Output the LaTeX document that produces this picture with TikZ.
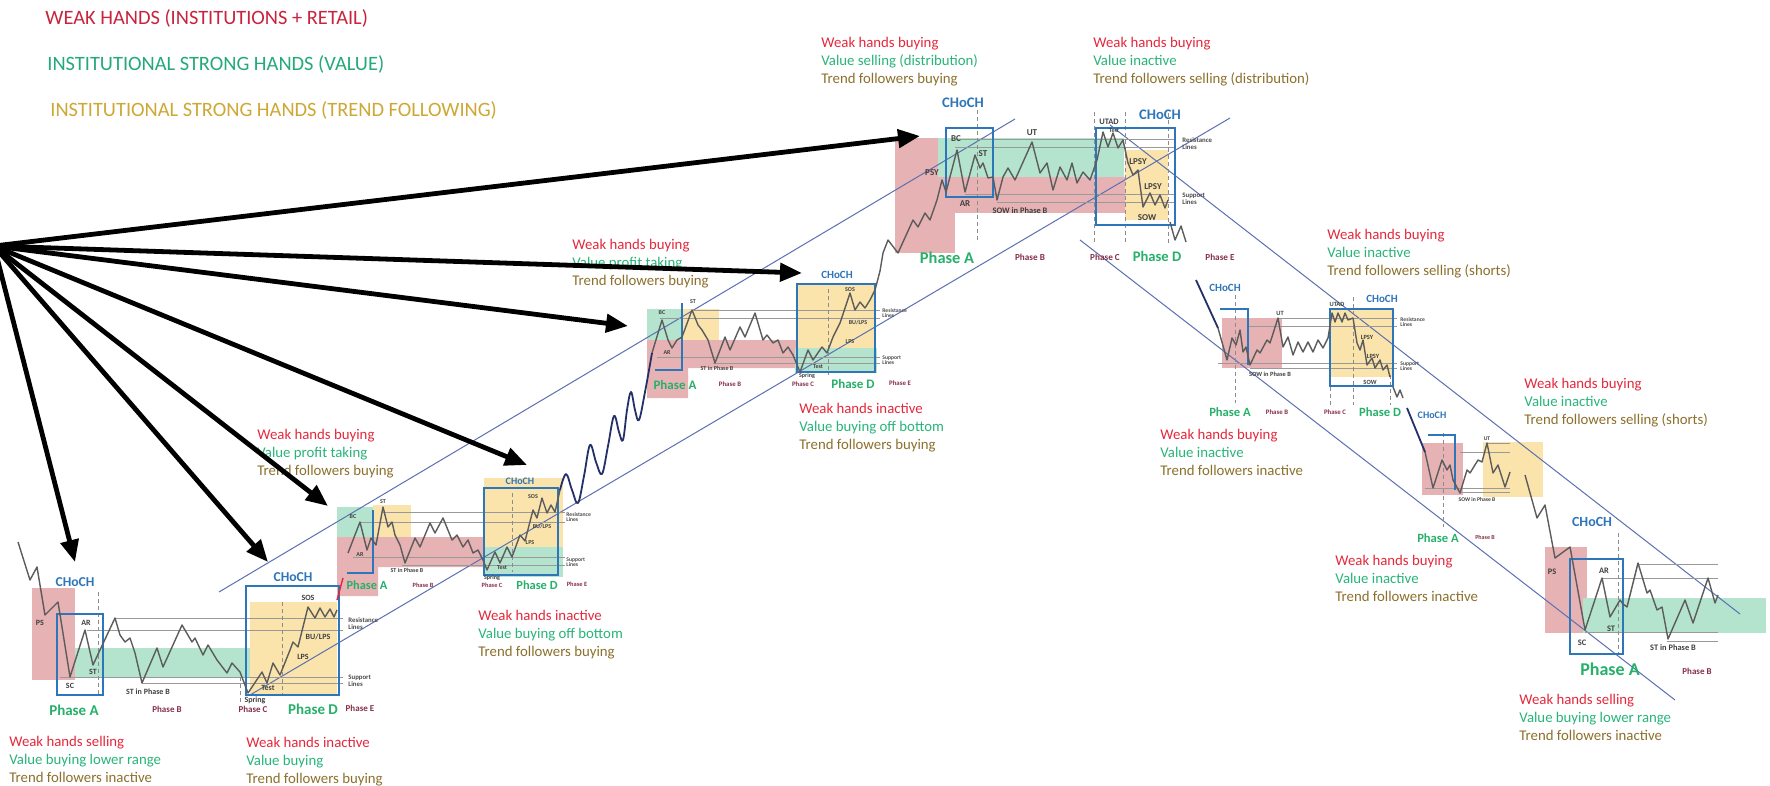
\documentclass[tikz,border=0pt]{standalone}
\usepackage{fontspec}
\setmainfont{Carlito}
\usetikzlibrary{arrows.meta}
\definecolor{wk}{RGB}{228,40,60}
\definecolor{vl}{RGB}{40,180,122}
\definecolor{tf}{RGB}{140,112,44}
\definecolor{lgw}{RGB}{200,36,62}
\definecolor{lgv}{RGB}{36,170,120}
\definecolor{lgt}{RGB}{206,168,52}
\definecolor{bx}{RGB}{46,118,186}
\definecolor{rz}{RGB}{230,178,180}
\definecolor{gz}{RGB}{180,228,206}
\definecolor{yz}{RGB}{250,228,172}
\definecolor{ch}{RGB}{92,112,178}
\definecolor{pl}{RGB}{92,92,92}
\definecolor{nv}{RGB}{36,48,104}
\definecolor{phc}{RGB}{134,48,72}
\definecolor{pg}{RGB}{38,176,106}
\begin{document}
\begin{tikzpicture}[x=0.5pt,y=-0.5pt,
  px/.style={color=pl,line width=0.7pt,line join=round},
  drift/.style={color=nv,line width=0.9pt,line join=round},
  lvl/.style={color=black!40,line width=0.5pt},
  cut/.style={color=black!45,line width=0.4pt,dash pattern=on 2pt off 1.5pt},
  hold/.style={color=bx,line width=1pt},
  chan/.style={color=ch,line width=0.5pt},
  hand/.style={-{Triangle[length=11pt,width=9pt]},line width=2.4pt},
  blk/.style={anchor=north west,align=left,inner sep=0,font=\fontsize{7.4}{9}\selectfont},
  leg/.style={anchor=west,inner sep=0,font=\fontsize{10.2}{12}\selectfont},
  tg/.style={inner sep=0,font=\fontsize{#1}{#1}\selectfont\bfseries,text=black!75},
  tg/.default=4,
  ph/.style={inner sep=0,font=\fontsize{#1}{#1}\selectfont\bfseries,text=phc},
  ph/.default=4.5,
  pa/.style={inner sep=0,font=\fontsize{#1}{#1}\selectfont\bfseries,text=pg},
  choch/.style={inner sep=0,font=\fontsize{#1}{#1}\selectfont\bfseries,text=bx},
  rl/.style={anchor=west,align=left,inner sep=0,font=\fontsize{#1}{#1}\selectfont\bfseries,text=black!70},
  rl/.default=3.4]
\fill[white] (0,0) rectangle (1770,786);
\useasboundingbox (0,0) rectangle (1770,786);

\node[leg,text=lgw] (lgWeak) at (45,18) {WEAK HANDS (INSTITUTIONS + RETAIL)};
\node[leg,text=lgv] (lgValue) at (47,64) {INSTITUTIONAL STRONG HANDS (VALUE)};
\node[leg,text=lgt] (lgTrend) at (50,110) {INSTITUTIONAL STRONG HANDS (TREND FOLLOWING)};

\fill[rz] (32,588) rectangle (75,680);
\fill[gz] (75,648) rectangle (252,678);
\fill[yz] (250,602) rectangle (337,695);
\fill[gz] (337,507) rectangle (373,537);
\fill[yz] (373,505) rectangle (411,537);
\fill[rz] (337,537) -- (483,537) -- (483,567) -- (378,567) -- (378,596) -- (337,596) -- cycle;
\fill[yz] (484,478) rectangle (563,573);
\fill[gz] (484,547) rectangle (563,577);
\fill[gz] (647,309) rectangle (682,340);
\fill[yz] (682,309) rectangle (719,340);
\fill[rz] (647,340) -- (797,340) -- (797,368) -- (688,368) -- (688,398) -- (647,398) -- cycle;
\fill[yz] (797,283) rectangle (875,352);
\fill[gz] (795,348) rectangle (877,373);
\fill[rz] (895,138) rectangle (955,253);
\fill[rz] (955,177) rectangle (1126,213);
\fill[gz] (938,138) rectangle (1124,177);
\fill[yz] (1125,150) rectangle (1168,220);
\fill[rz] (1222,318) rectangle (1282,368);
\fill[yz] (1330,310) rectangle (1393,377);
\fill[rz] (1422,443) rectangle (1463,495);
\fill[yz] (1483,442) rectangle (1543,497);
\fill[rz] (1545,547) rectangle (1587,633);
\fill[gz] (1583,598) rectangle (1766,633);

\draw[chan] (219,592) -- (1015,119);
\draw[chan] (250,695) -- (1230,118);
\draw[chan] (1110,125) -- (1740,614);
\draw[chan] (1080,240) -- (1675,700);

\draw[lvl] (115,618) -- (343,618);
\draw[lvl] (87,630) -- (343,630);
\draw[lvl] (60,677) -- (343,677);
\draw[lvl] (142,683) -- (343,683);
\draw[lvl] (383,512) -- (565,512);
\draw[lvl] (360,522) -- (565,522);
\draw[lvl] (353,557) -- (565,557);
\draw[lvl] (402,565) -- (565,565);
\draw[lvl] (692,310) -- (880,310);
\draw[lvl] (660,318) -- (880,318);
\draw[lvl] (657,357) -- (880,357);
\draw[lvl] (713,363) -- (880,363);
\draw[lvl] (957,140) -- (1175,140);
\draw[lvl] (955,148) -- (1175,148);
\draw[lvl] (965,195) -- (1175,195);
\draw[lvl] (997,203) -- (1175,203);
\draw[lvl] (1278,318) -- (1397,318);
\draw[lvl] (1248,326) -- (1397,326);
\draw[lvl] (1218,363) -- (1397,363);
\draw[lvl] (1250,368) -- (1397,368);
\draw[lvl] (1487,443) -- (1510,443);
\draw[lvl] (1460,452) -- (1510,452);
\draw[lvl] (1425,488) -- (1510,488);
\draw[lvl] (1460,492) -- (1510,492);
\draw[lvl] (1637,564) -- (1718,564);
\draw[lvl] (1602,578) -- (1718,578);
\draw[lvl] (1585,632) -- (1718,632);
\draw[lvl] (1667,641) -- (1718,641);

\draw[cut] (98,592) -- (98,695);
\draw[cut] (240,677) -- (240,702);
\draw[cut] (282,602) -- (282,695);
\draw[cut] (512,493) -- (512,572);
\draw[cut] (828,289) -- (828,375);
\draw[cut] (977,110) -- (977,243);
\draw[cut] (1094,112) -- (1094,243);
\draw[cut] (1125,112) -- (1125,243);
\draw[cut] (1168,113) -- (1168,243);
\draw[cut] (1235,295) -- (1235,403);
\draw[cut] (1330,380) -- (1330,405);
\draw[cut] (1353,297) -- (1353,405);
\draw[cut] (1390,375) -- (1390,405);
\draw[cut] (1443,433) -- (1443,527);
\draw[cut] (1618,533) -- (1618,654);

\draw[hold] (57,614) rectangle (103,695);
\draw[hold] (246,586) rectangle (339,695);
\draw[hold] (347,573) -- (373,573) -- (373,510);
\draw[hold] (484,488) rectangle (558,575);
\draw[hold] (655,370) -- (682,370) -- (682,303);
\draw[hold] (797,284) rectangle (875,372);
\draw[hold] (946,128) rectangle (993,197);
\draw[hold] (1096,128) rectangle (1175,225);
\draw[hold] (1220,309) -- (1248,309) -- (1248,365);
\draw[hold] (1330,309) rectangle (1393,386);
\draw[hold] (1428,435) -- (1455,435) -- (1455,490);
\draw[hold] (1570,559) rectangle (1623,654);

\draw[px] (18,542) -- (30,580) -- (37,567) -- (45,615) -- (58,602) -- (70,677) -- (85,630) -- (93,665) -- (100,650) -- (115,618) -- (120,635) -- (125,642) -- (130,638) -- (135,653) -- (142,683) -- (157,648) -- (163,667) -- (182,625) -- (192,642) -- (195,638) -- (203,655) -- (208,645) -- (217,660) -- (227,673) -- (232,663) -- (240,672) -- (248,693) -- (262,672) -- (267,683) -- (273,663) -- (280,675) -- (290,650) -- (293,642) -- (298,647) -- (308,607) -- (315,618) -- (320,608) -- (325,617) -- (330,609) -- (334,617) -- (337,610);
\draw[color=wk,line width=0.7pt] (337,600) -- (343,578);
\draw[px] (348,553) -- (360,522) -- (367,550) -- (371,538) -- (376,545) -- (383,507) -- (388,527) -- (392,522) -- (395,535) -- (400,545) -- (405,563) -- (415,538) -- (420,547) -- (430,523) -- (435,533) -- (443,518) -- (452,540) -- (457,535) -- (463,547) -- (468,540) -- (473,553) -- (478,550) -- (483,560) -- (487,570) -- (495,552) -- (500,563) -- (507,547) -- (512,557) -- (520,535) -- (525,541) -- (533,510) -- (537,518) -- (542,498) -- (547,513) -- (551,505) -- (555,512) -- (560,490);
\draw[drift] plot[smooth,tension=0.6] coordinates {(560,490) (566,474) (572,490) (578,503) (584,476) (590,445) (596,462) (602,474) (608,446) (614,416) (619,432) (623,440) (627,410) (631,392) (635,410) (639,420) (645,392) (652,353)};
\draw[px] (652,353) -- (662,320) -- (668,340) -- (672,348) -- (677,340) -- (682,337) -- (692,310) -- (698,325) -- (702,330) -- (708,340) -- (715,363) -- (725,337) -- (730,350) -- (740,327) -- (745,337) -- (755,313) -- (763,340) -- (767,335) -- (773,343) -- (778,340) -- (783,353) -- (788,347) -- (793,355) -- (800,372) -- (808,350) -- (813,360) -- (822,347) -- (827,353) -- (833,337) -- (840,323) -- (850,293) -- (855,310) -- (860,302) -- (865,308) -- (870,300) -- (875,290) -- (880,271);
\draw[px] (880,271) -- (883,253) -- (888,240) -- (898,253) -- (913,220) -- (918,227) -- (925,213) -- (930,220) -- (937,200) -- (942,180) -- (946,192) -- (957,150) -- (965,192) -- (975,155) -- (980,168) -- (983,163) -- (988,178) -- (993,177) -- (997,200) -- (1003,177) -- (1008,168) -- (1015,180) -- (1032,142) -- (1040,173) -- (1047,163) -- (1053,190) -- (1060,167) -- (1067,180) -- (1072,163) -- (1077,183) -- (1083,172) -- (1090,180) -- (1097,160) -- (1103,132) -- (1108,147) -- (1113,133) -- (1118,148) -- (1123,140) -- (1128,163) -- (1133,175) -- (1138,170) -- (1143,207) -- (1150,193) -- (1155,205) -- (1160,195) -- (1165,208) -- (1168,200);
\draw[px] (1170,222) -- (1175,240) -- (1181,226) -- (1186,242);
\draw[drift] (1196,280) -- (1218,328);
\draw[px] (1218,328) -- (1227,360) -- (1232,338) -- (1236,345) -- (1240,330) -- (1243,352) -- (1246,347) -- (1250,365) -- (1257,350) -- (1260,353) -- (1267,340) -- (1270,343) -- (1278,318) -- (1283,347) -- (1288,337) -- (1293,355) -- (1298,342) -- (1303,352) -- (1308,342) -- (1313,352) -- (1318,340) -- (1323,348) -- (1328,338) -- (1332,313) -- (1335,322) -- (1338,313) -- (1342,322) -- (1345,313) -- (1348,320) -- (1353,318) -- (1357,343) -- (1360,350) -- (1363,340) -- (1367,365) -- (1372,358) -- (1375,368) -- (1380,360) -- (1383,370) -- (1387,365) -- (1390,377);
\draw[px] (1393,387) -- (1397,397) -- (1400,390) -- (1403,398);
\draw[drift] (1407,408) -- (1425,452);
\draw[px] (1425,452) -- (1433,488) -- (1442,460) -- (1447,470) -- (1450,465) -- (1453,480) -- (1460,493) -- (1467,470) -- (1470,473) -- (1478,460) -- (1482,462) -- (1487,443) -- (1493,473) -- (1498,465) -- (1505,487) -- (1510,472);
\draw[px] (1525,475) -- (1537,518) -- (1545,505) -- (1555,558) -- (1570,547) -- (1585,630) -- (1602,578) -- (1610,617) -- (1620,600) -- (1623,604) -- (1627,607) -- (1638,563) -- (1647,593) -- (1650,590) -- (1657,610) -- (1662,607) -- (1668,639) -- (1685,600) -- (1693,623) -- (1708,578) -- (1715,603) -- (1718,595);

\node[choch=6.8] (chA1) at (75,582) {CHoCH};
\node[tg] (psA1) at (40,623) {PS};
\node[tg] (arA1) at (86,623) {AR};
\node[tg] (scA1) at (70,686) {SC};
\node[tg] (stA1) at (93,672) {ST};
\node[tg] (sbA1) at (148,692) {ST in Phase B};
\node[pa=7.5] (paA1) at (74,710) {Phase A};
\node[ph] (pbA1) at (167,709) {Phase B};
\node[tg] (spA1) at (255,700) {Spring};
\node[ph] (pcA1) at (253,709) {Phase C};
\node[pa=7.5] (pdA1) at (313,709) {Phase D};
\node[ph] (peA1) at (360,708) {Phase E};
\node[rl] (rlA1) at (348,624) {Resistance\\Lines};
\node[rl] (slA1) at (348,681) {Support\\Lines};
\node[tg] (sosA1) at (308,598) {SOS};
\node[tg] (buA1) at (318,637) {BU/LPS};
\node[tg] (lpA1) at (303,657) {LPS};
\node[tg] (tsA1) at (268,688) {Test};
\node[choch=6.8] (chD1) at (293,577) {CHoCH};

\node[tg=3] (bcA2) at (353,517) {BC};
\node[tg=3] (arA2) at (360,555) {AR};
\node[tg=3] (stA2) at (383,502) {ST};
\node[tg=3] (sbA2) at (407,570) {ST in Phase B};
\node[pa=6.2] (paA2) at (367,585) {Phase A};
\node[ph=3.2] (pbA2) at (423,585) {Phase B};
\node[tg=3] (spA2) at (492,578) {Spring};
\node[ph=3.2] (pcA2) at (492,585) {Phase C};
\node[pa=6.2] (pdA2) at (537,585) {Phase D};
\node[ph=3.2] (peA2) at (577,584) {Phase E};
\node[tg=3] (sosA2) at (533,497) {SOS};
\node[tg=3] (buA2) at (542,527) {BU/LPS};
\node[tg=3] (lpA2) at (530,543) {LPS};
\node[tg=3] (tsA2) at (502,568) {Test};
\node[rl=2.8] (rlA2) at (566,517) {Resistance\\Lines};
\node[rl=2.8] (slA2) at (566,562) {Support\\Lines};
\node[choch=5] (chD2) at (520,481) {CHoCH};

\node[tg=3] (bcA3) at (662,313) {BC};
\node[tg=3] (arA3) at (667,353) {AR};
\node[tg=3] (stA3) at (693,302) {ST};
\node[tg=3] (sbA3) at (717,368) {ST in Phase B};
\node[pa=6.5] (paA3) at (675,385) {Phase A};
\node[ph=3.4] (pbA3) at (730,384) {Phase B};
\node[tg=3] (spA3) at (807,376) {Spring};
\node[ph=3.4] (pcA3) at (803,384) {Phase C};
\node[pa=6.5] (pdA3) at (853,384) {Phase D};
\node[ph=3.4] (peA3) at (900,383) {Phase E};
\node[tg=3] (sosA3) at (850,290) {SOS};
\node[tg=3] (buA3) at (858,323) {BU/LPS};
\node[tg=3] (lpA3) at (850,342) {LPS};
\node[tg=3] (tsA3) at (818,367) {Test};
\node[rl=2.8] (rlA3) at (882,313) {Resistance\\Lines};
\node[rl=2.8] (slA3) at (882,360) {Support\\Lines};
\node[choch=5.5] (chD3) at (837,275) {CHoCH};

\node[choch=7.3] (chDi) at (963,103) {CHoCH};
\node[choch=7.3] (chDj) at (1160,115) {CHoCH};
\node[tg=4.2] (utadDi) at (1109,122) {UTAD};
\node[tg=3] (tsDi) at (1114,131) {Test};
\node[tg=4.5] (bcDi) at (956,139) {BC};
\node[tg=4.5] (psyDi) at (932,173) {PSY};
\node[tg=4.5] (stDi) at (983,154) {ST};
\node[tg=4.5] (arDi) at (965,204) {AR};
\node[tg=4.5] (utDi) at (1032,133) {UT};
\node[tg=4.2] (sowbDi) at (1020,211) {SOW in Phase B};
\node[tg=4.5] (lpsyDi) at (1138,162) {LPSY};
\node[tg=4.5] (lpsyDj) at (1153,187) {LPSY};
\node[tg=4.5] (sowDi) at (1147,218) {SOW};
\node[rl] (rlDi) at (1182,144) {Resistance\\Lines};
\node[rl] (slDi) at (1182,199) {Support\\Lines};
\node[pa=8.2] (paDi) at (947,258) {Phase A};
\node[ph=4.6] (pbDi) at (1030,257) {Phase B};
\node[ph=4.6] (pcDi) at (1105,257) {Phase C};
\node[pa=7.3] (pdDi) at (1157,256) {Phase D};
\node[ph=4.6] (peDi) at (1220,257) {Phase E};

\node[choch=5.5] (chRd) at (1225,288) {CHoCH};
\node[tg=3.2] (utRd) at (1280,313) {UT};
\node[tg=3.2] (sowbRd) at (1270,374) {SOW in Phase B};
\node[tg=3.2] (utadRd) at (1337,304) {UTAD};
\node[choch=5.5] (chRe) at (1382,299) {CHoCH};
\node[tg=3.2] (lpsyRd) at (1367,337) {LPSY};
\node[tg=3.2] (lpsyRe) at (1373,356) {LPSY};
\node[tg=3.2] (sowRd) at (1370,382) {SOW};
\node[rl=2.8] (rlRd) at (1400,322) {Resistance\\Lines};
\node[rl=2.8] (slRd) at (1400,366) {Support\\Lines};
\node[pa=6.3] (paRd) at (1230,412) {Phase A};
\node[ph=3.4] (pbRd) at (1277,412) {Phase B};
\node[ph=3.4] (pcRd) at (1335,412) {Phase C};
\node[pa=6.3] (pdRd) at (1380,412) {Phase D};

\node[choch=5] (chSm) at (1432,415) {CHoCH};
\node[tg=2.8] (utSm) at (1487,439) {UT};
\node[tg=2.8] (sowbSm) at (1477,500) {SOW in Phase B};
\node[pa=6.3] (paSm) at (1438,538) {Phase A};
\node[ph=3] (pbSm) at (1485,537) {Phase B};

\node[choch=7] (chAc) at (1592,522) {CHoCH};
\node[tg=4.2] (psAc) at (1552,572) {PS};
\node[tg=4.2] (arAc) at (1604,571) {AR};
\node[tg=4.2] (stAc) at (1611,629) {ST};
\node[tg=4.2] (scAc) at (1582,643) {SC};
\node[tg=4.2] (sbAc) at (1673,648) {ST in Phase B};
\node[pa=9] (paAc) at (1610,669) {Phase A};
\node[ph] (pbAc) at (1697,671) {Phase B};

\node[blk] (bkA1) at (9,736) {\textcolor{wk}{Weak hands selling}\\\textcolor{vl}{Value buying lower range}\\\textcolor{tf}{Trend followers inactive}};
\node[blk] (bkD1) at (246,737) {\textcolor{wk}{Weak hands inactive}\\\textcolor{vl}{Value buying}\\\textcolor{tf}{Trend followers buying}};
\node[blk] (bkA2) at (257,429) {\textcolor{wk}{Weak hands buying}\\\textcolor{vl}{Value profit taking}\\\textcolor{tf}{Trend followers buying}};
\node[blk] (bkD2) at (478,610) {\textcolor{wk}{Weak hands inactive}\\\textcolor{vl}{Value buying off bottom}\\\textcolor{tf}{Trend followers buying}};
\node[blk] (bkA3) at (572,239) {\textcolor{wk}{Weak hands buying}\\\textcolor{vl}{Value profit taking}\\\textcolor{tf}{Trend followers buying}};
\node[blk] (bkD3) at (799,403) {\textcolor{wk}{Weak hands inactive}\\\textcolor{vl}{Value buying off bottom}\\\textcolor{tf}{Trend followers buying}};
\node[blk] (bkDi) at (821,37) {\textcolor{wk}{Weak hands buying}\\\textcolor{vl}{Value selling (distribution)}\\\textcolor{tf}{Trend followers buying}};
\node[blk] (bkDj) at (1093,37) {\textcolor{wk}{Weak hands buying}\\\textcolor{vl}{Value inactive}\\\textcolor{tf}{Trend followers selling (distribution)}};
\node[blk] (bkRe) at (1327,229) {\textcolor{wk}{Weak hands buying}\\\textcolor{vl}{Value inactive}\\\textcolor{tf}{Trend followers selling (shorts)}};
\node[blk] (bkRd) at (1160,429) {\textcolor{wk}{Weak hands buying}\\\textcolor{vl}{Value inactive}\\\textcolor{tf}{Trend followers inactive}};
\node[blk] (bkSn) at (1524,378) {\textcolor{wk}{Weak hands buying}\\\textcolor{vl}{Value inactive}\\\textcolor{tf}{Trend followers selling (shorts)}};
\node[blk] (bkSm) at (1335,555) {\textcolor{wk}{Weak hands buying}\\\textcolor{vl}{Value inactive}\\\textcolor{tf}{Trend followers inactive}};
\node[blk] (bkAc) at (1519,694) {\textcolor{wk}{Weak hands selling}\\\textcolor{vl}{Value buying lower range}\\\textcolor{tf}{Trend followers inactive}};

\coordinate (hub) at (-6,246);
\coordinate (toDist) at (920,136);
\coordinate (toD3) at (802,273);
\coordinate (toA3) at (628,326);
\coordinate (toD2) at (527,465);
\coordinate (toA2) at (328,506);
\coordinate (toD1) at (268,562);
\coordinate (toA1) at (75,562);
\draw[hand] (hub) -- (toDist);
\draw[hand] (hub) -- (toD3);
\draw[hand] (hub) -- (toA3);
\draw[hand] (hub) -- (toD2);
\draw[hand] (hub) -- (toA2);
\draw[hand] (hub) -- (toD1);
\draw[hand] (hub) -- (toA1);
\end{tikzpicture}
\end{document}
